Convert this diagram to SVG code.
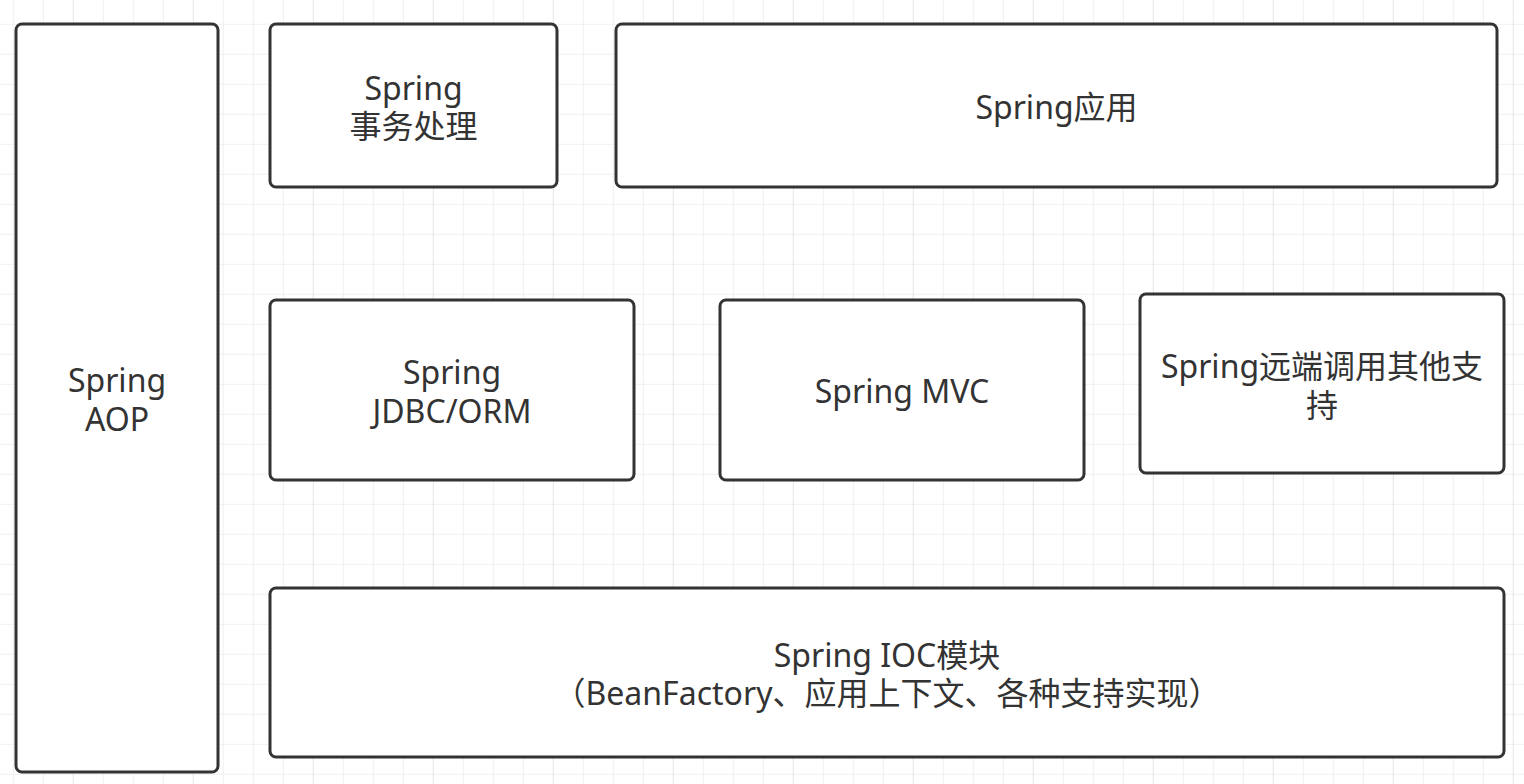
<svg xmlns="http://www.w3.org/2000/svg" width="1524" height="784" viewBox="0 0 1524 784">
  <style>
    .box { fill: #ffffff; stroke: #333333; stroke-width: 3; }
    .lbl { fill: #333333; font-family: "Noto Sans", "Noto Sans CJK SC", sans-serif; font-size: 32px; text-anchor: middle; dominant-baseline: central; }
  </style>
  <defs>
    <pattern id="grid" patternUnits="userSpaceOnUse" x="12.8" y="23.8" width="120" height="30">
      <rect x="0" y="0" width="120" height="1" fill="#f0f0f0"/>
      <rect x="0" y="0" width="1" height="30" fill="#f0f0f0"/>
      <rect x="30" y="0" width="1" height="30" fill="#f0f0f0"/>
      <rect x="60" y="0" width="1" height="30" fill="#e4e4e4"/>
      <rect x="90" y="0" width="1" height="30" fill="#f0f0f0"/>
    </pattern>
  </defs>
  <rect x="0" y="0" width="1524" height="784" fill="#ffffff"/>
  <rect x="0" y="0" width="1524" height="784" fill="url(#grid)"/>

  <g id="connectors"></g>

  <g id="node-aop">
    <rect class="box" x="16" y="24" width="202" height="748" rx="6"/>
    <text class="lbl"><tspan x="117" y="379">Spring</tspan><tspan x="117" y="418">AOP</tspan></text>
  </g>
  <g id="node-tx">
    <rect class="box" x="270" y="24" width="287" height="163" rx="6"/>
    <text class="lbl"><tspan x="413.5" y="87">Spring</tspan><tspan x="413.5" y="125">事务处理</tspan></text>
  </g>
  <g id="node-app">
    <rect class="box" x="616" y="24" width="881" height="163" rx="6"/>
    <text class="lbl" x="1056.5" y="106">Spring应用</text>
  </g>
  <g id="node-jdbc">
    <rect class="box" x="270" y="300" width="364" height="180" rx="6"/>
    <text class="lbl"><tspan x="452" y="371">Spring</tspan><tspan x="452" y="410">JDBC/ORM</tspan></text>
  </g>
  <g id="node-mvc">
    <rect class="box" x="720" y="300" width="364" height="180" rx="6"/>
    <text class="lbl" x="902" y="390">Spring MVC</text>
  </g>
  <g id="node-remote">
    <rect class="box" x="1140" y="294" width="364" height="179" rx="6"/>
    <text class="lbl"><tspan x="1322" y="365">Spring远端调用其他支</tspan><tspan x="1322" y="404">持</tspan></text>
  </g>
  <g id="node-ioc">
    <rect class="box" x="270" y="588" width="1234" height="169" rx="6"/>
    <text class="lbl"><tspan x="887" y="654">Spring IOC模块</tspan><tspan x="887" y="692">（BeanFactory、应用上下文、各种支持实现）</tspan></text>
  </g>
</svg>
